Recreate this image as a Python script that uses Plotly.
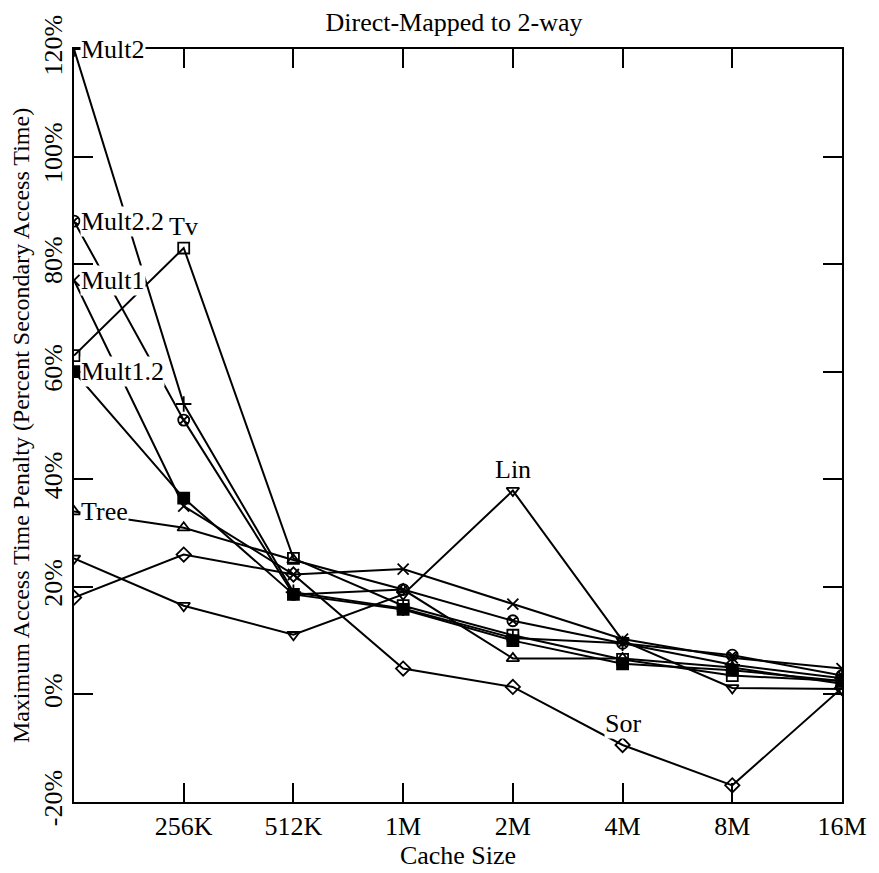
import plotly.graph_objects as go

# Cache sizes along the x axis (first size sits on the left frame, unlabeled)
cache_sizes = ["128K", "256K", "512K", "1M", "2M", "4M", "8M", "16M"]
labeled_sizes = ["256K", "512K", "1M", "2M", "4M", "8M", "16M"]

# Maximum access time penalty (% of secondary access time), per benchmark
mult2 = [120, 54, 19, 16, 10.5, 9.5, 5.5, 3]
mult2_2 = [88, 51, 18.6, 19.5, 13.7, 9.5, 7.3, 3.5]
mult1 = [77, 35, 22.3, 23.3, 16.8, 10.3, 6.8, 4.8]
mult1_2 = [60, 36.5, 18.6, 15.8, 10, 5.7, 4.5, 2.5]
tv = [63, 83, 25.3, 16.5, 11, 6.5, 3.5, 2.5]
tree = [34, 31, 25, 19.5, 6.7, 6.7, 5, 2]
lin = [25.3, 16.5, 11.1, 18.6, 37.9, 10, 1.2, 1]
sor = [18, 26, 22.3, 4.8, 1.4, -9.4, -16.9, 1.2]

y_ticks = [-20, 0, 20, 40, 60, 80, 100, 120]

FONT = "Liberation Serif, Times New Roman, serif"

series = [
    ("Mult2", mult2, "cross-thin-open"),
    ("Mult2.2", mult2_2, "circle-x-open"),
    ("Mult1", mult1, "x-thin-open"),
    ("Mult1.2", mult1_2, "square"),
    ("Tv", tv, "square-open"),
    ("Tree", tree, "triangle-up-open"),
    ("Lin", lin, "triangle-down-open"),
    ("Sor", sor, "diamond-open"),
]

fig = go.Figure()
for name, vals, sym in series:
    fig.add_trace(go.Scatter(
        x=cache_sizes, y=vals, name=name, mode="lines+markers",
        line=dict(color="black", width=2),
        marker=dict(symbol=sym, size=11, color="black",
                    line=dict(color="black", width=1.8)),
        showlegend=False,
    ))

# Series names written beside their curves, on a white box that hides lines behind
left_labels = [("Mult2", mult2[0]), ("Mult2.2", mult2_2[0]), ("Mult1", mult1[0]),
               ("Mult1.2", mult1_2[0]), ("Tree", tree[0])]
for text, yv in left_labels:
    fig.add_annotation(x=cache_sizes[0], y=yv, text=text, showarrow=False,
                       xanchor="left", yanchor="middle", xshift=6,
                       bgcolor="white", borderpad=0,
                       font=dict(family=FONT, size=26, color="black"))

above_labels = [("Tv", cache_sizes[1], tv[1]), ("Lin", cache_sizes[4], lin[4]),
                ("Sor", cache_sizes[5], sor[5])]
for text, xv, yv in above_labels:
    fig.add_annotation(x=xv, y=yv, text=text, showarrow=False,
                       xanchor="center", yanchor="bottom", yshift=6,
                       bgcolor="white", borderpad=0,
                       font=dict(family=FONT, size=26, color="black"))

fig.update_layout(
    width=879, height=873,
    margin=dict(l=74, r=28, t=49, b=61),
    paper_bgcolor="white", plot_bgcolor="white",
    font=dict(family=FONT, size=26, color="black"),
    title=dict(text="Direct-Mapped to 2-way", x=0.5165, xanchor="center",
               y=0.975, yanchor="middle", font=dict(family=FONT, size=26)),
)
fig.update_xaxes(
    type="category", categoryorder="array", categoryarray=cache_sizes,
    range=[0, 7], tickmode="array", tickvals=labeled_sizes, ticktext=labeled_sizes,
    ticks="inside", ticklen=19, tickwidth=2, tickcolor="black",
    showline=True, linecolor="black", linewidth=2, mirror="ticks",
    showgrid=False, zeroline=False,
    title=dict(text="Cache Size", standoff=2, font=dict(family=FONT, size=26)),
    tickfont=dict(family=FONT, size=26),
)
fig.update_yaxes(
    range=[-20, 120], tickmode="array", tickvals=y_ticks,
    ticktext=[f"{v}%" for v in y_ticks], tickangle=-90,
    ticks="inside", ticklen=19, tickwidth=2, tickcolor="black",
    showline=True, linecolor="black", linewidth=2, mirror="ticks",
    showgrid=False, zeroline=False,
    title=dict(text="Maximum Access Time Penalty (Percent Secondary Access Time)",
               standoff=2, font=dict(family=FONT, size=24)),
    tickfont=dict(family=FONT, size=26),
)

fig.write_html("out.html")
